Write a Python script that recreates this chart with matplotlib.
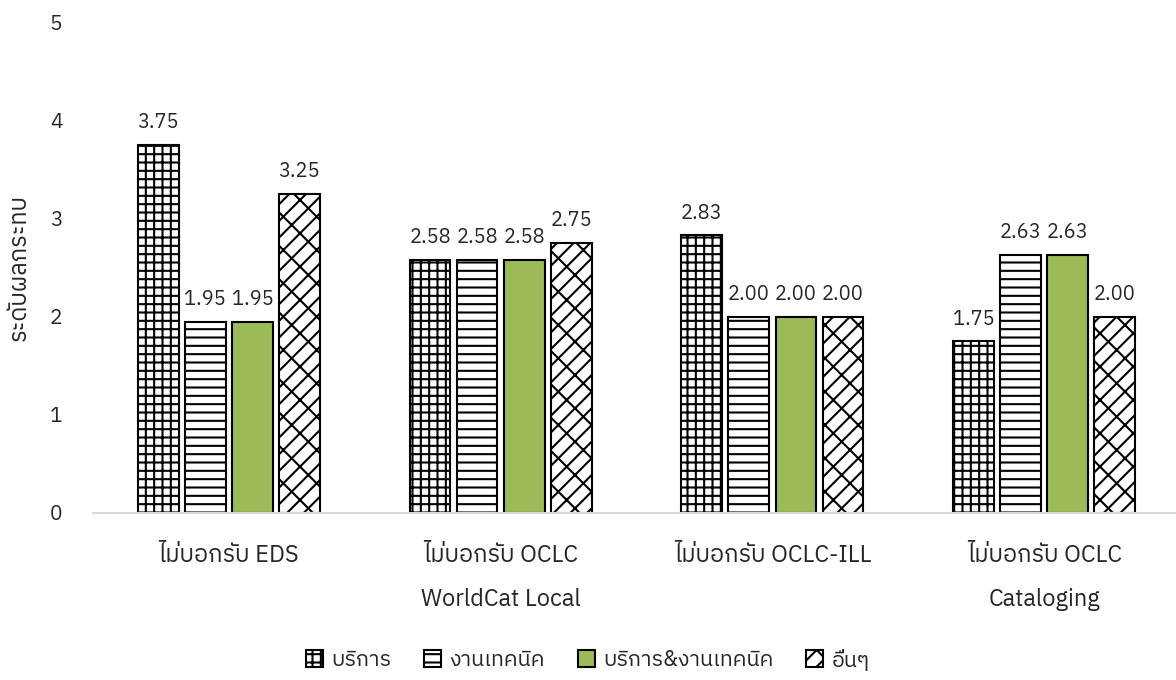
import numpy as np
import matplotlib
matplotlib.use("Agg")
import matplotlib.pyplot as plt
from matplotlib import font_manager
from matplotlib.ft2font import FT2Font

# data
categories = ["ไม่บอกรับ EDS", "ไม่บอกรับ OCLC\nWorldCat Local",
              "ไม่บอกรับ OCLC-ILL", "ไม่บอกรับ OCLC\nCataloging"]
series_names = ["บริการ", "งานเทคนิค", "บริการ&งานเทคนิค", "อื่นๆ"]
service = [3.75, 2.58, 2.83, 1.75]
technical = [1.95, 2.58, 2.00, 2.63]
both = [1.95, 2.58, 2.00, 2.63]
other = [3.25, 2.75, 2.00, 2.00]
y_ticks = [0, 1, 2, 3, 4, 5]


# find an installed font that can draw Thai
def thai_font():
    preferred = []
    others = []
    for path in font_manager.findSystemFonts():
        try:
            f = FT2Font(path)
            if 0x0E01 in f.get_charmap():
                name = font_manager.FontProperties(fname=path).get_name()
                if "Sans" in name or "Loma" in name or "Sarabun" in name:
                    preferred.append(name)
                else:
                    others.append(name)
        except Exception:
            pass
    found = preferred + others
    return found[0] if found else None


tf = thai_font()
fams = ([tf] if tf else []) + ["DejaVu Sans"]
plt.rcParams["font.family"] = fams
plt.rcParams["hatch.linewidth"] = 1.5

text_col = "#262626"

fig = plt.figure(figsize=(11.76, 6.8), dpi=100)
ax = fig.add_axes([93 / 1176, 1 - 513 / 680, 1087 / 1176, 491 / 680])

x = np.arange(len(categories))
w = 0.15
step = 0.173
styles = [
    dict(facecolor="white", hatch="++"),
    dict(facecolor="white", hatch="--"),
    dict(facecolor="#9BBB59", hatch=None),
    dict(facecolor="white", hatch="//\\"),
]
all_series = [service, technical, both, other]
for i, (vals, st, name) in enumerate(zip(all_series, styles, series_names)):
    pos = x + (i - 1.5) * step
    bars = ax.bar(pos, vals, w, edgecolor="black", linewidth=1.5,
                  label=name, **st)
    ax.bar_label(bars, labels=[f"{v:.2f}" for v in vals], padding=9,
                 fontsize=14.5, color=text_col)

ax.set_xlim(-0.5, 3.5)
ax.set_ylim(0, 5)
ax.set_yticks(y_ticks)
ax.set_xticks(x)
ax.set_xticklabels(categories, fontsize=17, linespacing=2.2, va="top")
ax.tick_params(axis="both", length=0, colors=text_col)
ax.tick_params(axis="y", labelsize=15, pad=22)
ax.tick_params(axis="x", pad=22)
for s in ["top", "right", "left"]:
    ax.spines[s].set_visible(False)
ax.spines["bottom"].set_color("#d9d9d9")
ax.spines["bottom"].set_linewidth(1.5)
ax.set_ylabel("ระดับผลกระทบ", fontsize=17, color=text_col, labelpad=14)

fig.legend(loc="center", bbox_to_anchor=(0.5, 1 - 660 / 680), ncol=4,
           frameon=False, fontsize=15.5, handlelength=0.8, handleheight=0.8,
           handletextpad=0.4, columnspacing=1.5, labelcolor=text_col)

fig.savefig("out.png", dpi=100)
